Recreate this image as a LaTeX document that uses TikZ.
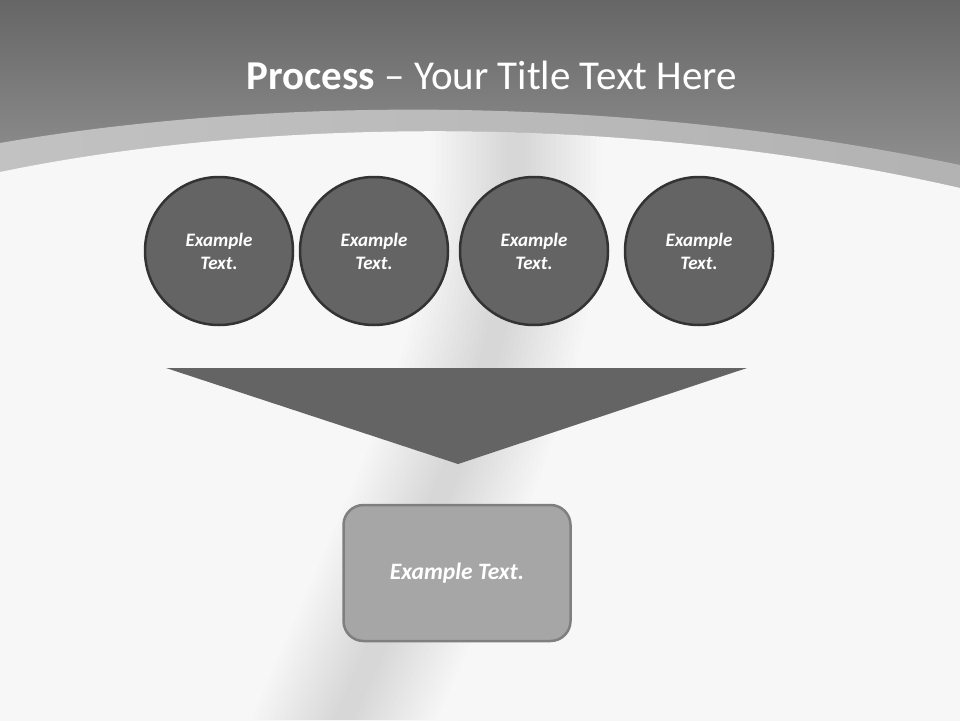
\documentclass[tikz,border=0pt]{standalone}
\usepackage{fontspec}
\setmainfont{Carlito}
\definecolor{dark}{HTML}{646464}
\definecolor{rim}{HTML}{333333}
\definecolor{boxfill}{HTML}{A6A6A6}
\definecolor{boxrim}{HTML}{7F7F7F}
\tikzset{
  stepcircle/.style={circle, fill=dark, draw=rim, line width=2.5pt, minimum size=148pt, inner sep=0pt,
    text=white, align=center, font=\fontsize{19}{23}\selectfont\bfseries\itshape},
  resultbox/.style={rectangle, rounded corners=20pt, fill=boxfill, draw=boxrim, line width=2.5pt,
    minimum width=227pt, minimum height=136pt, text=white, font=\fontsize{23.5}{26}\selectfont\bfseries\itshape},
  haze/.style={draw=black, opacity=0.009, line cap=round}
}
\begin{document}
\begin{tikzpicture}[x=1pt,y=-1pt]
\useasboundingbox (0,0) rectangle (960,720);
% background
\fill[white!97!black] (0,0) rectangle (960,720);
% header
\shade[top color=white!40!black, bottom color=white!58!black] (0,0) rectangle (960,190);
% light band
\shade[left color=white!76!black, middle color=white!80!black, right color=white!70!black]
  (0,143) .. controls (250,100) and (600,90) .. (960,165) -- (960,720) -- (0,720) -- cycle;
% white area
\fill[white!97!black] (0,172) .. controls (250,120) and (620,110) .. (960,188) -- (960,720) -- (0,720) -- cycle;
% soft haze stripe
\begin{scope}
  \clip (0,172) .. controls (250,120) and (620,110) .. (960,188) -- (960,720) -- (0,720) -- cycle;
  \foreach \w in {170,160,150,140,130,120,110,100,90,80,70,60,50,40,30,20} {
    \draw[haze, line width=\w pt] (515,110) .. controls (525,330) and (470,430) .. (335,740);
  }
\end{scope}
% title
\node[text=white, font=\fontsize{41}{44}\selectfont] (title) at (492,75) {\textbf{Process} – Your Title Text Here};
% circles
\node[stepcircle] (c1) at (219,251) {Example\\Text.};
\node[stepcircle] (c2) at (374,251) {Example\\Text.};
\node[stepcircle] (c3) at (534,251) {Example\\Text.};
\node[stepcircle] (c4) at (699,251) {Example\\Text.};
% funnel triangle
\fill[dark] (166,368) -- (747,368) -- (458,464) -- cycle;
% result box
\node[resultbox] (res) at (457,573) {Example Text.};
\end{tikzpicture}
\end{document}
